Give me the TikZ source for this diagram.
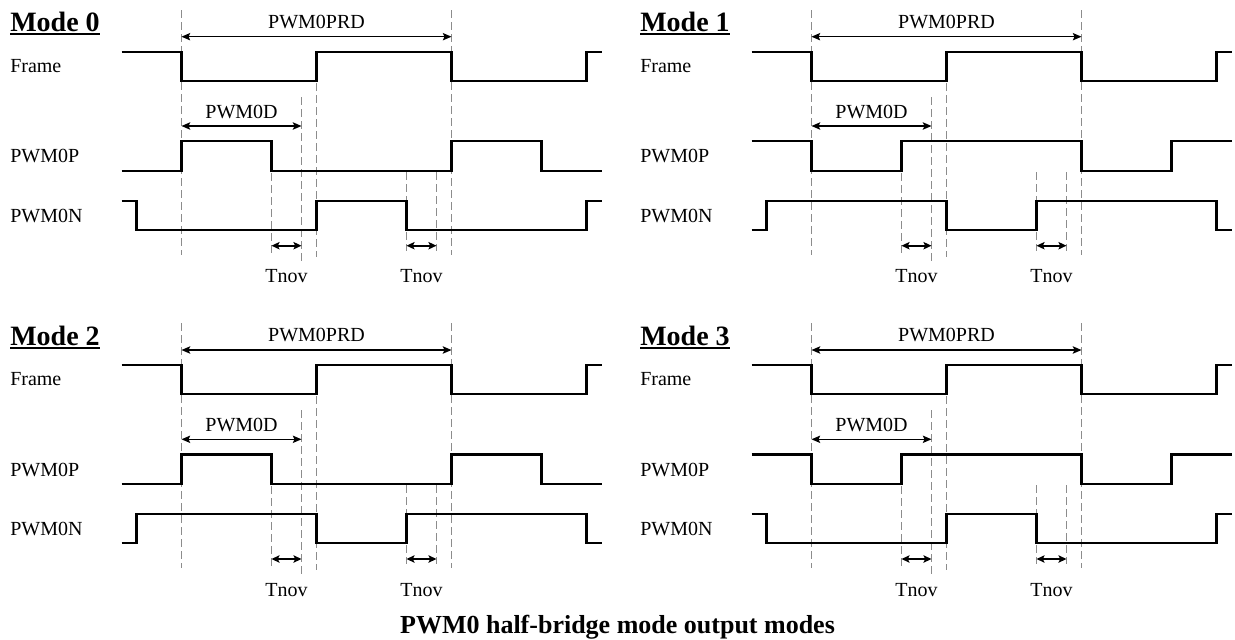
\documentclass[tikz,border=0pt]{standalone}
\usepackage{fontspec}
\setmainfont{Liberation Serif}
\usetikzlibrary{arrows.meta}
\tikzset{
  wave/.style={line width=1.7pt, line join=miter, line cap=butt},
  guide/.style={black!45, line width=0.7pt, dash pattern=on 6pt off 3pt},
  dimline/.style={line width=0.9pt, {Stealth[length=6.5pt,width=5.5pt,inset=1.2pt]}-{Stealth[length=6.5pt,width=5.5pt,inset=1.2pt]}},
  tnovline/.style={line width=1.2pt, {Stealth[length=6pt,width=5.5pt,inset=1.2pt]}-{Stealth[length=6pt,width=5.5pt,inset=1.2pt]}},
  lbl/.style={inner sep=0pt, font={\fontsize{15pt}{18pt}\selectfont}},
  sig/.style={lbl, anchor=west},
  ttl/.style={inner sep=0pt, anchor=base west, font={\fontsize{21pt}{25pt}\selectfont\bfseries}},
}
% #1 mode, #2 dx, #3 dy, #4/#5 PWM0P start/other level, #6/#7 PWM0N start/other level
\newcommand{\modepanel}[7]{%
  \begin{scope}[shift={(#2,#3)}]
    % guide lines
    \draw[guide] (181.5,10) -- (181.5,255);
    \draw[guide] (451.5,10) -- (451.5,255);
    \draw[guide] (316.5,83) -- (316.5,257);
    \draw[guide] (301.5,97) -- (301.5,261);
    \draw[guide] (271.5,173) -- (271.5,254);
    \draw[guide] (406.5,172) -- (406.5,251);
    \draw[guide] (436.5,172) -- (436.5,251);
    % title and signal names
    \node[ttl] (t#1) at (10,31.7) {Mode #1};
    \draw[line width=1.5pt] ([yshift=-2pt]t#1.base west) -- ([yshift=-2pt]t#1.base east);
    \node[sig] (fl#1) at (10,66.2) {Frame};
    \node[sig] (pl#1) at (10,156.2) {PWM0P};
    \node[sig] (nl#1) at (10,215.5) {PWM0N};
    % waveforms
    \draw[wave] (121.5,51.7) -- (181.5,51.7) -- (181.5,80.7) -- (316.5,80.7) -- (316.5,51.7)
       -- (451.5,51.7) -- (451.5,80.7) -- (586.5,80.7) -- (586.5,51.7) -- (601.5,51.7);
    \draw[wave] (121.5,#4) -- (181.5,#4) -- (181.5,#5) -- (271.5,#5) -- (271.5,#4)
       -- (451.5,#4) -- (451.5,#5) -- (541.5,#5) -- (541.5,#4) -- (601.5,#4);
    \draw[wave] (121.5,#6) -- (136.5,#6) -- (136.5,#7) -- (316.5,#7) -- (316.5,#6)
       -- (406.5,#6) -- (406.5,#7) -- (586.5,#7) -- (586.5,#6) -- (601.5,#6);
    % PWM0PRD
    \coordinate (pa#1) at (181.5,36.7);
    \coordinate (pb#1) at (451.5,36.7);
    \draw[dimline] (pa#1) -- (pb#1);
    \node[lbl, anchor=base] (prd#1) at (316.5,28.3) {PWM0PRD};
    % PWM0D
    \coordinate (da#1) at (181.5,126);
    \coordinate (db#1) at (301.5,126);
    \draw[dimline] (da#1) -- (db#1);
    \node[lbl, anchor=base] (d#1) at (241.5,118.3) {PWM0D};
    % Tnov
    \coordinate (ta#1) at (271.5,245.7);
    \coordinate (tb#1) at (301.5,245.7);
    \draw[tnovline] (ta#1) -- (tb#1);
    \node[lbl, anchor=base] (tn#1) at (286.5,282.7) {Tnov};
    \coordinate (tc#1) at (406.5,245.7);
    \coordinate (td#1) at (436.5,245.7);
    \draw[tnovline] (tc#1) -- (td#1);
    \node[lbl, anchor=base] (tm#1) at (421.5,282.7) {Tnov};
  \end{scope}%
}
\begin{document}
\begin{tikzpicture}[x=0.75pt, y=-0.75pt]
  \useasboundingbox (0,0) rectangle (1235,639);
  \modepanel{0}{0}{0}{171}{141.3}{201}{230}
  \modepanel{1}{630}{0}{141.3}{171}{230}{201}
  \modepanel{2}{0}{313.3}{171}{141.3}{230}{201}
  \modepanel{3}{630}{313.3}{141.3}{171}{201}{230}
  \node[inner sep=0pt, anchor=base, font={\fontsize{19.5pt}{23pt}\selectfont\bfseries}] (cap) at (617.5,633.3) {PWM0 half-bridge mode output modes};
\end{tikzpicture}
\end{document}
